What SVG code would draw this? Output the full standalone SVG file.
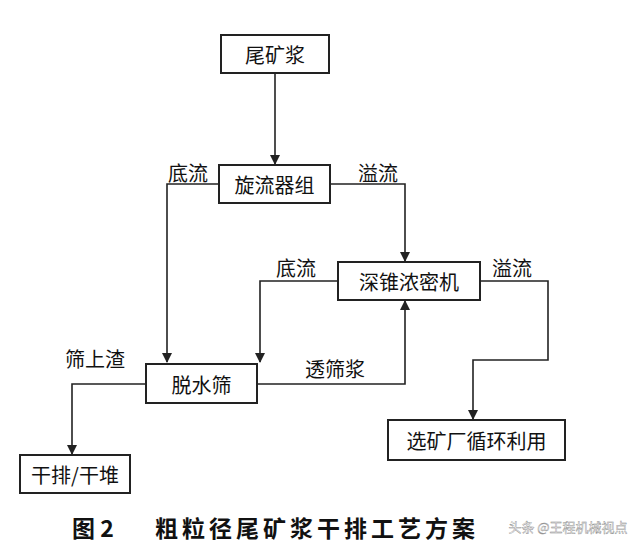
<svg xmlns="http://www.w3.org/2000/svg" width="640" height="557" viewBox="0 0 640 557">
<style>
.b{fill:#fff;stroke:#222;stroke-width:2}
.t{font-family:"Noto Sans CJK SC",sans-serif;font-size:20px;fill:#111;text-anchor:middle;dominant-baseline:central}
.c{fill:none;stroke:#222;stroke-width:1.6}
.cap{font-family:"Noto Sans CJK SC",sans-serif;font-size:23px;font-weight:bold;fill:#111;dominant-baseline:central}
</style>
<defs><marker id="a" markerWidth="10" markerHeight="14" refX="9" refY="5" orient="auto" markerUnits="userSpaceOnUse" viewBox="0 0 10 10"><path d="M0,0 L10,5 L0,10 Z" fill="#222"/></marker></defs>
<rect width="640" height="557" fill="#fff"/>
<g id="connectors">
<path class="c" d="M275,73 V164" marker-end="url(#a)"/>
<path class="c" d="M219,184 H167 V362" marker-end="url(#a)"/>
<path class="c" d="M330,184 H405 V261" marker-end="url(#a)"/>
<path class="c" d="M338,281 H260 V362" marker-end="url(#a)"/>
<path class="c" d="M480,281 H548 V360 H473 V419" marker-end="url(#a)"/>
<path class="c" d="M257,384 H405 V301" marker-end="url(#a)"/>
<path class="c" d="M146,384 H72 V454" marker-end="url(#a)"/>
</g>
<g id="labels">
<text class="t" x="188" y="172">底流</text>
<text class="t" x="378" y="172">溢流</text>
<text class="t" x="296" y="267">底流</text>
<text class="t" x="512" y="267">溢流</text>
<text class="t" x="335" y="368">透筛浆</text>
<text class="t" x="95" y="358">筛上渣</text>
</g>
<g id="n1"><rect class="b" x="221" y="35" width="108" height="38"/><text class="t" x="275" y="54">尾矿浆</text></g>
<g id="n2"><rect class="b" x="219" y="165" width="111" height="38"/><text class="t" x="274.5" y="184">旋流器组</text></g>
<g id="n3"><rect class="b" x="338" y="262" width="142" height="38"/><text class="t" x="409" y="281">深锥浓密机</text></g>
<g id="n4"><rect class="b" x="146" y="364" width="111" height="39"/><text class="t" x="201.5" y="384">脱水筛</text></g>
<g id="n5"><rect class="b" x="388" y="420" width="177" height="40"/><text class="t" x="476.5" y="440">选矿厂循环利用</text></g>
<g id="n6"><rect class="b" x="20" y="455" width="110" height="38"/><text class="t" x="75" y="474">干排/干堆</text></g>
<text class="cap" x="72" y="527">图 2</text>
<text class="cap" x="155" y="527" style="letter-spacing:4px">粗粒径尾矿浆干排工艺方案</text>
<text x="568" y="532" style="font-family:'Noto Sans CJK SC',sans-serif;font-size:13px;fill:#fff;stroke:#888;stroke-width:0.4" text-anchor="middle">头条 @王程机械视点</text>
</svg>
